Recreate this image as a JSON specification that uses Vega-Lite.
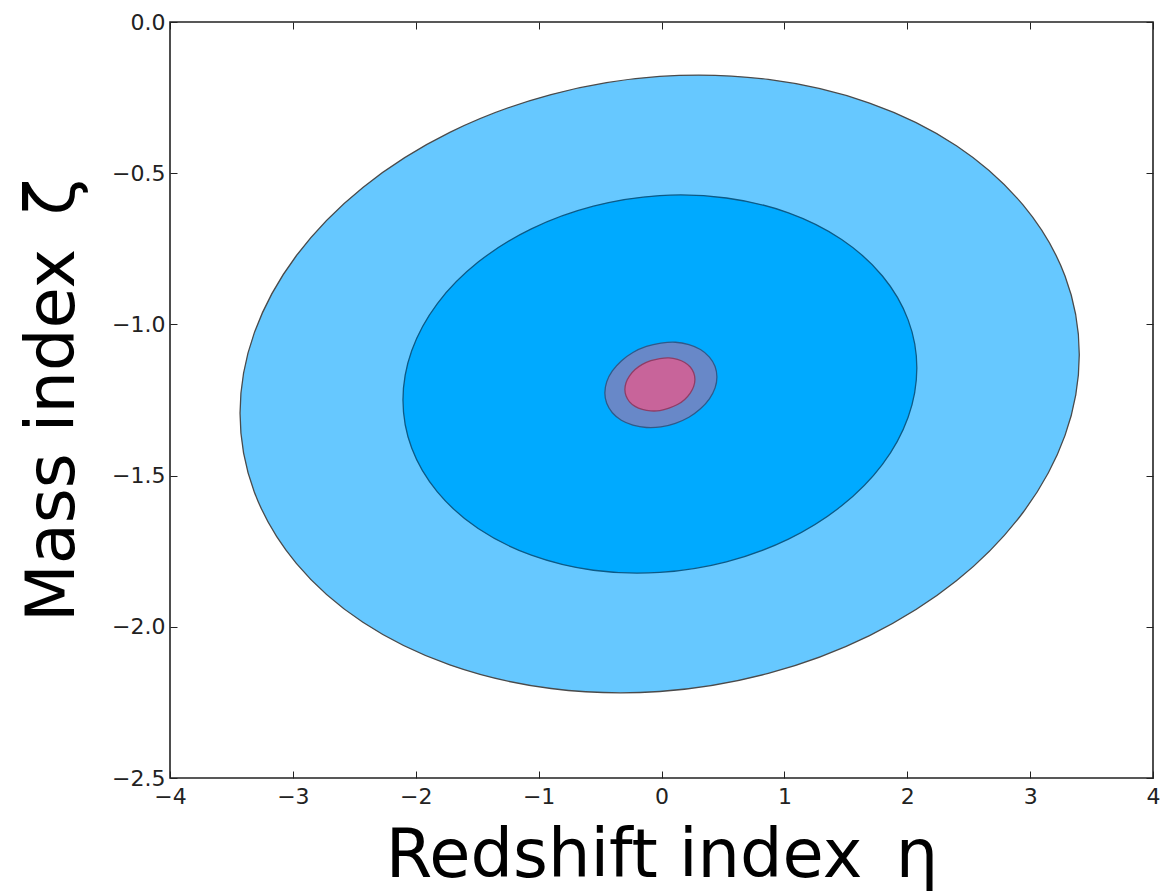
{
  "$schema": "https://vega.github.io/schema/vega-lite/v6.json",
  "width": 983,
  "height": 756,
  "autosize": {"type": "none"},
  "padding": {"left": 170, "top": 22, "right": 13, "bottom": 113},
  "background": "white",
  "config": {
    "view": {"stroke": "#222222", "strokeWidth": 1.6},
    "font": "DejaVu Sans",
    "axis": {
      "domain": false,
      "grid": false,
      "tickColor": "#222222",
      "tickSize": -7,
      "tickWidth": 1,
      "labelFont": "DejaVu Sans",
      "labelFontSize": 22,
      "labelColor": "#222222",
      "titleFont": "DejaVu Sans",
      "titleFontSize": 67,
      "titleFontWeight": "normal",
      "titleColor": "#000000"
    }
  },
  "datasets": {
    "ellipses": [
      {"e":"outer","i":0,"x":3.400,"y":-1.100},{"e":"outer","i":1,"x":3.284,"y":-0.840},{"e":"outer","i":2,"x":2.942,"y":-0.605},{"e":"outer","i":3,"x":2.400,"y":-0.409},{"e":"outer","i":4,"x":1.693,"y":-0.268},{"e":"outer","i":5,"x":0.869,"y":-0.190},{"e":"outer","i":6,"x":-0.015,"y":-0.180},{"e":"outer","i":7,"x":-0.899,"y":-0.240},{"e":"outer","i":8,"x":-1.723,"y":-0.365},{"e":"outer","i":9,"x":-2.430,"y":-0.547},{"e":"outer","i":10,"x":-2.972,"y":-0.773},{"e":"outer","i":11,"x":-3.314,"y":-1.028},{"e":"outer","i":12,"x":-3.430,"y":-1.294},{"e":"outer","i":13,"x":-3.314,"y":-1.554},{"e":"outer","i":14,"x":-2.972,"y":-1.790},{"e":"outer","i":15,"x":-2.430,"y":-1.985},{"e":"outer","i":16,"x":-1.723,"y":-2.126},{"e":"outer","i":17,"x":-0.899,"y":-2.204},{"e":"outer","i":18,"x":-0.015,"y":-2.214},{"e":"outer","i":19,"x":0.869,"y":-2.154},{"e":"outer","i":20,"x":1.693,"y":-2.029},{"e":"outer","i":21,"x":2.400,"y":-1.848},{"e":"outer","i":22,"x":2.942,"y":-1.622},{"e":"outer","i":23,"x":3.284,"y":-1.367},
      {"e":"middle","i":0,"x":2.078,"y":-1.144},{"e":"middle","i":1,"x":2.007,"y":-0.985},{"e":"middle","i":2,"x":1.798,"y":-0.840},{"e":"middle","i":3,"x":1.466,"y":-0.719},{"e":"middle","i":4,"x":1.033,"y":-0.631},{"e":"middle","i":5,"x":0.528,"y":-0.582},{"e":"middle","i":6,"x":-0.013,"y":-0.574},{"e":"middle","i":7,"x":-0.554,"y":-0.609},{"e":"middle","i":8,"x":-1.059,"y":-0.684},{"e":"middle","i":9,"x":-1.492,"y":-0.794},{"e":"middle","i":10,"x":-1.824,"y":-0.931},{"e":"middle","i":11,"x":-2.033,"y":-1.087},{"e":"middle","i":12,"x":-2.104,"y":-1.250},{"e":"middle","i":13,"x":-2.033,"y":-1.409},{"e":"middle","i":14,"x":-1.824,"y":-1.554},{"e":"middle","i":15,"x":-1.492,"y":-1.675},{"e":"middle","i":16,"x":-1.059,"y":-1.763},{"e":"middle","i":17,"x":-0.554,"y":-1.813},{"e":"middle","i":18,"x":-0.013,"y":-1.820},{"e":"middle","i":19,"x":0.528,"y":-1.785},{"e":"middle","i":20,"x":1.033,"y":-1.710},{"e":"middle","i":21,"x":1.466,"y":-1.600},{"e":"middle","i":22,"x":1.798,"y":-1.463},{"e":"middle","i":23,"x":2.007,"y":-1.307},
      {"e":"small","i":0,"x":0.451,"y":-1.174},{"e":"small","i":1,"x":0.436,"y":-1.139},{"e":"small","i":2,"x":0.390,"y":-1.108},{"e":"small","i":3,"x":0.317,"y":-1.083},{"e":"small","i":4,"x":0.223,"y":-1.067},{"e":"small","i":5,"x":0.113,"y":-1.059},{"e":"small","i":6,"x":-0.005,"y":-1.062},{"e":"small","i":7,"x":-0.123,"y":-1.073},{"e":"small","i":8,"x":-0.233,"y":-1.093},{"e":"small","i":9,"x":-0.327,"y":-1.121},{"e":"small","i":10,"x":-0.400,"y":-1.154},{"e":"small","i":11,"x":-0.446,"y":-1.190},{"e":"small","i":12,"x":-0.461,"y":-1.227},{"e":"small","i":13,"x":-0.446,"y":-1.261},{"e":"small","i":14,"x":-0.400,"y":-1.292},{"e":"small","i":15,"x":-0.327,"y":-1.317},{"e":"small","i":16,"x":-0.233,"y":-1.333},{"e":"small","i":17,"x":-0.123,"y":-1.341},{"e":"small","i":18,"x":-0.005,"y":-1.339},{"e":"small","i":19,"x":0.113,"y":-1.327},{"e":"small","i":20,"x":0.223,"y":-1.307},{"e":"small","i":21,"x":0.317,"y":-1.279},{"e":"small","i":22,"x":0.390,"y":-1.246},{"e":"small","i":23,"x":0.436,"y":-1.210},
      {"e":"core","i":0,"x":0.272,"y":-1.182},{"e":"core","i":1,"x":0.262,"y":-1.160},{"e":"core","i":2,"x":0.234,"y":-1.141},{"e":"core","i":3,"x":0.189,"y":-1.126},{"e":"core","i":4,"x":0.130,"y":-1.116},{"e":"core","i":5,"x":0.061,"y":-1.111},{"e":"core","i":6,"x":-0.013,"y":-1.113},{"e":"core","i":7,"x":-0.087,"y":-1.120},{"e":"core","i":8,"x":-0.156,"y":-1.132},{"e":"core","i":9,"x":-0.215,"y":-1.149},{"e":"core","i":10,"x":-0.260,"y":-1.170},{"e":"core","i":11,"x":-0.288,"y":-1.192},{"e":"core","i":12,"x":-0.298,"y":-1.215},{"e":"core","i":13,"x":-0.288,"y":-1.237},{"e":"core","i":14,"x":-0.260,"y":-1.256},{"e":"core","i":15,"x":-0.215,"y":-1.271},{"e":"core","i":16,"x":-0.156,"y":-1.281},{"e":"core","i":17,"x":-0.087,"y":-1.286},{"e":"core","i":18,"x":-0.013,"y":-1.285},{"e":"core","i":19,"x":0.061,"y":-1.277},{"e":"core","i":20,"x":0.130,"y":-1.265},{"e":"core","i":21,"x":0.189,"y":-1.248},{"e":"core","i":22,"x":0.234,"y":-1.227},{"e":"core","i":23,"x":0.262,"y":-1.205}
    ]
  },
  "data": {"name": "ellipses"},
  "resolve": {"axis": {"x": "independent", "y": "independent"}},
  "layer": [
    {
      "transform": [{"filter": "datum.e === 'outer'"}],
      "mark": {"type": "line", "interpolate": "cardinal-closed", "tension": 0, "fill": "#66C8FF", "stroke": "#4a4a4a", "strokeWidth": 1.3, "clip": true},
      "encoding": {
        "x": {"field": "x", "type": "quantitative", "scale": {"domain": [-4, 4], "nice": false, "zero": false},
          "axis": {"title": "Redshift index\u2002η", "values": [-4, -3, -2, -1, 0, 1, 2, 3, 4], "format": "d", "labelPadding": 15, "titlePadding": 16, "labelFlush": false}},
        "y": {"field": "y", "type": "quantitative", "scale": {"domain": [-2.5, 0], "nice": false, "zero": false},
          "axis": {"title": "Mass index\u2002ζ", "values": [-2.5, -2, -1.5, -1, -0.5, 0], "format": ".1f", "labelPadding": 12, "titlePadding": 24, "labelFlush": false}},
        "order": {"field": "i", "type": "quantitative"}
      }
    },
    {
      "transform": [{"filter": "datum.e === 'middle'"}],
      "mark": {"type": "line", "interpolate": "cardinal-closed", "tension": 0, "fill": "#00AAFF", "stroke": "#0d5a86", "strokeWidth": 1.3},
      "encoding": {
        "x": {"field": "x", "type": "quantitative", "axis": {"orient": "top", "title": null, "labels": false, "values": [-4, -3, -2, -1, 0, 1, 2, 3, 4]}},
        "y": {"field": "y", "type": "quantitative", "axis": {"orient": "right", "title": null, "labels": false, "values": [-2.5, -2, -1.5, -1, -0.5, 0]}},
        "order": {"field": "i", "type": "quantitative"}
      }
    },
    {
      "transform": [{"filter": "datum.e === 'small'"}],
      "mark": {"type": "line", "interpolate": "cardinal-closed", "tension": 0, "fill": "#6888C8", "stroke": "#2f5a8a", "strokeWidth": 1.3},
      "encoding": {
        "x": {"field": "x", "type": "quantitative", "axis": null},
        "y": {"field": "y", "type": "quantitative", "axis": null},
        "order": {"field": "i", "type": "quantitative"}
      }
    },
    {
      "transform": [{"filter": "datum.e === 'core'"}],
      "mark": {"type": "line", "interpolate": "cardinal-closed", "tension": 0, "fill": "#C8649A", "stroke": "#8e3d66", "strokeWidth": 1.3},
      "encoding": {
        "x": {"field": "x", "type": "quantitative", "axis": null},
        "y": {"field": "y", "type": "quantitative", "axis": null},
        "order": {"field": "i", "type": "quantitative"}
      }
    }
  ]
}
